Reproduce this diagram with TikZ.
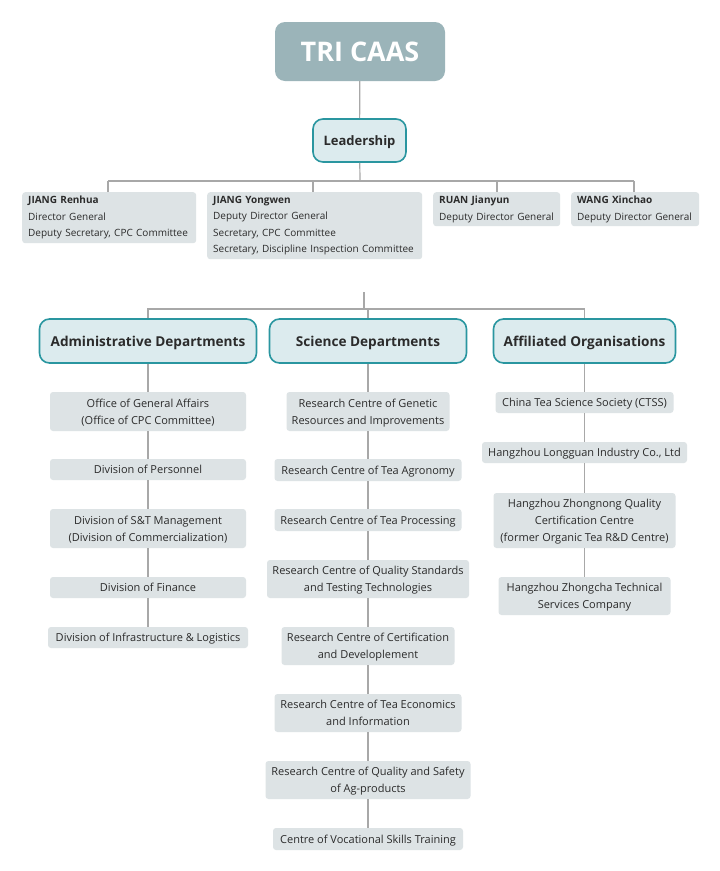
\documentclass[tikz,border=0pt]{standalone}
\usepackage{fontspec}
\setmainfont{Open Sans}
\definecolor{boxgray}{HTML}{DDE3E5}
\definecolor{trifill}{HTML}{9BB4B9}
\definecolor{hdrfill}{HTML}{DCEBEE}
\definecolor{hdrline}{HTML}{2A96A0}
\definecolor{textdark}{HTML}{2B2B2B}
\definecolor{linegray}{HTML}{A8A8A8}
\begin{document}
\begin{tikzpicture}[x=1pt,y=-1pt,
  gbox/.style={fill=boxgray, rounded corners=3pt, inner sep=0pt, align=center, text=textdark, text depth=0pt, font=\fontsize{11}{17}\selectfont},
  lbox/.style={fill=boxgray, rounded corners=3pt, inner xsep=6pt, inner ysep=0pt, align=left, text=textdark, anchor=north west, font=\fontsize{10}{16.5}\selectfont},
  hdr/.style={fill=hdrfill, draw=hdrline, line width=1.6pt, rounded corners=10pt, inner sep=0pt, text=textdark, text depth=0pt, font=\bfseries\fontsize{13.6}{15}\selectfont},
  conn/.style={draw=linegray, line width=1.2pt}]
\useasboundingbox (0,0) rectangle (720,871);
\fill[white] (0,0) rectangle (720,871);
% top
\node[fill=trifill, rounded corners=10pt, minimum width=170pt, minimum height=59pt, inner sep=0pt, text=white, font=\bfseries\fontsize{27}{30}\selectfont] (tri) at (360,51.5) {TRI CAAS};
\node[hdr, minimum width=93pt, minimum height=43pt, font=\bfseries\fontsize{13}{15}\selectfont] (lead) at (359.5,140.5) {Leadership};
% leaders
\node[lbox, text width=162pt, minimum height=51pt] (l1) at (22,192) {\textbf{JIANG Renhua}\\Director General\\Deputy Secretary, CPC Committee};
\node[lbox, text width=203pt, minimum height=67pt] (l2) at (207,192) {\textbf{JIANG Yongwen}\\Deputy Director General\\Secretary, CPC Committee\\Secretary, Discipline Inspection Committee};
\node[lbox, text width=115pt, minimum height=34pt] (l3) at (433,192) {\textbf{RUAN Jianyun}\\Deputy Director General};
\node[lbox, text width=116pt, minimum height=34pt] (l4) at (571,192) {\textbf{WANG Xinchao}\\Deputy Director General};
\coordinate (bus) at (360,181);
\coordinate (b1) at (108,181);
\coordinate (b2) at (313,181);
\coordinate (b3) at (497,181);
\coordinate (b4) at (634,181);
\draw[conn] (tri) -- (lead);
\draw[conn] (lead) -- (bus);
\draw[conn] (b1) -- (b4);
\draw[conn] (b1) -- (b1 |- l1.north);
\draw[conn] (b2) -- (b2 |- l2.north);
\draw[conn] (b3) -- (b3 |- l3.north);
\draw[conn] (b4) -- (b4 |- l4.north);
% headers
\node[hdr, minimum width=217pt, minimum height=44pt] (adm) at (148,341) {Administrative Departments};
\node[hdr, minimum width=197pt, minimum height=44pt] (sci) at (368,341) {Science Departments};
\node[hdr, minimum width=182pt, minimum height=44pt] (aff) at (584.5,341) {Affiliated Organisations};
\coordinate (top2) at (364,292);
\coordinate (bus2) at (364,309);
\draw[conn] (top2) -- (bus2);
\draw[conn] (adm.north) |- (bus2) -| (aff.north);
\draw[conn] (sci.north) -- (sci.north |- bus2);
% admin column
\node[gbox, minimum width=196pt, minimum height=39pt] (a1) at (148,411.5) {Office of General Affairs\\(Office of CPC Committee)};
\node[gbox, minimum width=196pt, minimum height=21pt] (a2) at (148,469.5) {Division of Personnel};
\node[gbox, minimum width=196pt, minimum height=39pt] (a3) at (148,528.5) {Division of S\&T Management\\(Division of Commercialization)};
\node[gbox, minimum width=196pt, minimum height=21pt] (a4) at (148,587.5) {Division of Finance};
\node[gbox, minimum width=200pt, minimum height=21pt] (a5) at (148,637.5) {Division of Infrastructure \& Logistics};
\draw[conn] (adm) -- (a1);
\draw[conn] (a1) -- (a2);
\draw[conn] (a2) -- (a3);
\draw[conn] (a3) -- (a4);
\draw[conn] (a4) -- (a5);
% science column
\node[gbox, minimum width=163pt, minimum height=39pt] (s1) at (368,411.5) {Research Centre of Genetic\\Resources and Improvements};
\node[gbox, minimum width=187pt, minimum height=22pt] (s2) at (368,470) {Research Centre of Tea Agronomy};
\node[gbox, minimum width=187pt, minimum height=22pt] (s3) at (368,520) {Research Centre of Tea Processing};
\node[gbox, minimum width=202pt, minimum height=38pt] (s4) at (368,579) {Research Centre of Quality Standards\\and Testing Technologies};
\node[gbox, minimum width=173pt, minimum height=38pt] (s5) at (368,646) {Research Centre of Certification\\and Developlement};
\node[gbox, minimum width=187pt, minimum height=38pt] (s6) at (368,713) {Research Centre of Tea Economics\\and Information};
\node[gbox, minimum width=205pt, minimum height=38pt] (s7) at (368,780) {Research Centre of Quality and Safety\\of Ag-products};
\node[gbox, minimum width=190pt, minimum height=22pt] (s8) at (368,839) {Centre of Vocational Skills Training};
\draw[conn] (sci) -- (s1);
\draw[conn] (s1) -- (s2);
\draw[conn] (s2) -- (s3);
\draw[conn] (s3) -- (s4);
\draw[conn] (s4) -- (s5);
\draw[conn] (s5) -- (s6);
\draw[conn] (s6) -- (s7);
\draw[conn] (s7) -- (s8);
% affiliated column
\node[gbox, minimum width=178pt, minimum height=21pt] (f1) at (584.5,402.5) {China Tea Science Society (CTSS)};
\node[gbox, minimum width=205pt, minimum height=21pt] (f2) at (584.5,452.5) {Hangzhou Longguan Industry Co., Ltd};
\node[gbox, minimum width=182pt, minimum height=55pt] (f3) at (584.5,520.5) {Hangzhou Zhongnong Quality\\Certification Centre\\(former Organic Tea R\&D Centre)};
\node[gbox, minimum width=172pt, minimum height=38pt] (f4) at (584.5,596) {Hangzhou Zhongcha Technical\\Services Company};
\draw[conn] (aff) -- (f1);
\draw[conn] (f1) -- (f2);
\draw[conn] (f2) -- (f3);
\draw[conn] (f3) -- (f4);
\end{tikzpicture}
\end{document}
